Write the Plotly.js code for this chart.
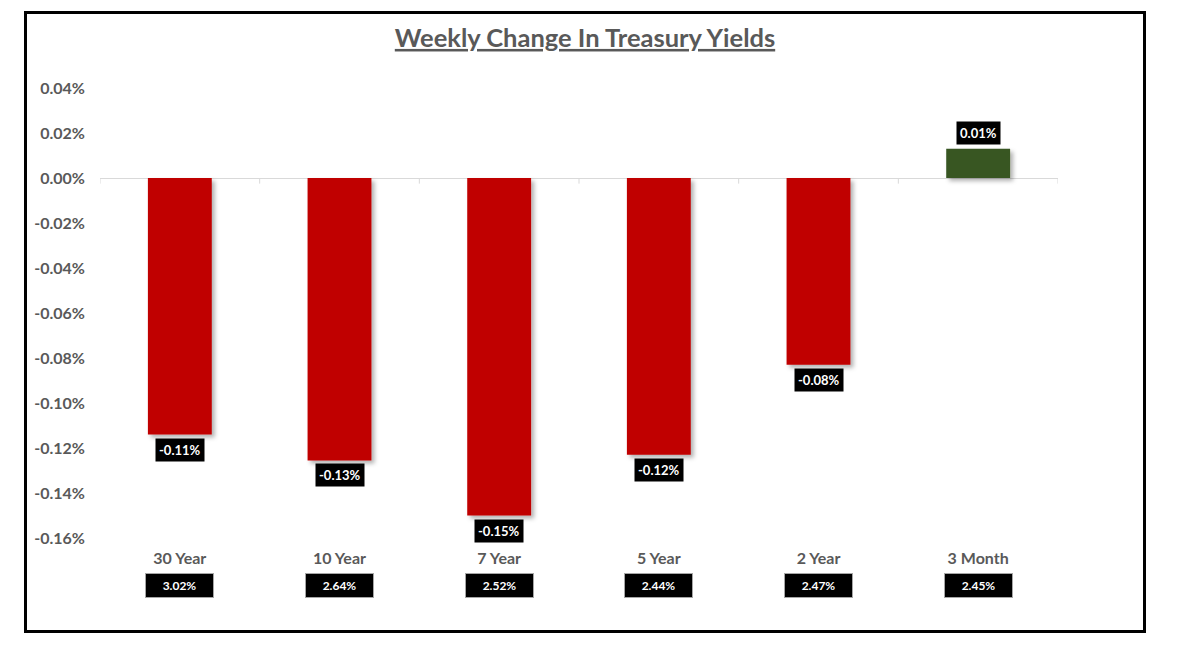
<!DOCTYPE html>
<html>
<head>
<meta charset="utf-8">
<script src="https://cdn.plot.ly/plotly-3.0.1.min.js"></script>
<style>
  html, body { margin: 0; padding: 0; background: #fff; }
  #wrap { position: relative; width: 1183px; height: 662px; }
  #chart { position: absolute; left: 0; top: 0; width: 1183px; height: 662px; }
  #frame { position: absolute; left: 24px; top: 11px; width: 1116px; height: 616px; border: 3px solid #000; pointer-events: none; }
</style>
</head>
<body>
<div id="wrap">
  <div id="chart"></div>
  <div id="frame"></div>
</div>
<script>
// Data
const categories = ['30 Year', '10 Year', '7 Year', '5 Year', '2 Year', '3 Month'];
const weeklyChange = [-0.114, -0.1255, -0.150, -0.123, -0.083, 0.013]; // percent points
const changeLabels = ['-0.11%', '-0.13%', '-0.15%', '-0.12%', '-0.08%', '0.01%'];
const currentYields = ['3.02%', '2.64%', '2.52%', '2.44%', '2.47%', '2.45%'];
const yTickVals = [0.04, 0.02, 0.00, -0.02, -0.04, -0.06, -0.08, -0.10, -0.12, -0.14, -0.16];
const yTickText = ['0.04%', '0.02%', '0.00%', '-0.02%', '-0.04%', '-0.06%', '-0.08%', '-0.10%', '-0.12%', '-0.14%', '-0.16%'];

const RED = '#c00000', GREEN = '#375623', GRAY = '#595959';
const FONT = 'Lato, "Open Sans", sans-serif';

const trace = {
  type: 'bar',
  x: categories,
  y: weeklyChange,
  width: 0.4,
  marker: { color: weeklyChange.map(v => v < 0 ? RED : GREEN), line: { width: 0 } },
  hoverinfo: 'x+y'
};

const annotations = [];
categories.forEach((c, i) => {
  const v = weeklyChange[i];
  annotations.push({
    x: c, y: v, xref: 'x', yref: 'y',
    text: '<b>' + changeLabels[i] + '</b>',
    showarrow: false,
    font: { family: FONT, size: 13, color: '#fff' },
    bgcolor: '#000', borderpad: 3,
    yanchor: v < 0 ? 'top' : 'bottom',
    yshift: v < 0 ? -3 : 4
  });
  annotations.push({
    x: c, y: -0.105, xref: 'x', yref: 'paper',
    text: '<b>' + currentYields[i] + '</b>',
    showarrow: false,
    font: { family: FONT, size: 12, color: '#fff' },
    bgcolor: '#000', bordercolor: '#a6a6a6', borderwidth: 1,
    width: 65, height: 21,
    yanchor: 'middle'
  });
});

// category boundary tick marks on the zero line
const shapes = [];
for (let k = 0; k <= categories.length; k++) {
  shapes.push({
    type: 'line', xref: 'x', yref: 'y',
    x0: k - 0.5, x1: k - 0.5, y0: 0, y1: -0.0025,
    line: { color: '#d9d9d9', width: 1 }
  });
}

const layout = {
  width: 1183, height: 662,
  paper_bgcolor: '#fff', plot_bgcolor: '#fff',
  margin: { l: 100, r: 125, t: 88, b: 124 },
  title: {
    text: '<b><u>Weekly Change In Treasury Yields</u></b>',
    font: { family: FONT, size: 25.5, color: GRAY },
    x: 585 / 1183, xanchor: 'center', xref: 'container',
    y: 1 - 38 / 662, yanchor: 'middle', yref: 'container'
  },
  xaxis: {
    type: 'category',
    range: [-0.5, 5.5],
    showgrid: false, zeroline: false, showline: false,
    ticks: '',
    tickfont: { family: FONT, size: 16, color: GRAY, weight: 'bold' },
    ticklabelstandoff: 9
  },
  yaxis: {
    range: [-0.16, 0.04],
    tickvals: yTickVals, ticktext: yTickText,
    showgrid: false, showline: false,
    zeroline: true, zerolinecolor: '#d9d9d9', zerolinewidth: 1,
    ticks: '',
    tickfont: { family: FONT, size: 16, color: GRAY, weight: 'bold' },
    ticklabelstandoff: 14
  },
  annotations: annotations,
  shapes: shapes,
  showlegend: false,
  font: { family: FONT }
};

Plotly.newPlot('chart', [trace], layout, { displayModeBar: false, staticPlot: true }).then(() => {
  const svg = document.querySelector('#chart svg.main-svg');
  const ns = 'http://www.w3.org/2000/svg';
  let defs = svg.querySelector('defs');
  if (!defs) { defs = document.createElementNS(ns, 'defs'); svg.insertBefore(defs, svg.firstChild); }
  const f = document.createElementNS(ns, 'filter');
  f.setAttribute('id', 'barShadow');
  f.setAttribute('x', '-20%'); f.setAttribute('y', '-20%');
  f.setAttribute('width', '150%'); f.setAttribute('height', '150%');
  const ds = document.createElementNS(ns, 'feDropShadow');
  ds.setAttribute('dx', '3'); ds.setAttribute('dy', '3');
  ds.setAttribute('stdDeviation', '2');
  ds.setAttribute('flood-color', '#000'); ds.setAttribute('flood-opacity', '0.3');
  f.appendChild(ds); defs.appendChild(f);
  document.querySelectorAll('#chart .bars .point path').forEach(p => p.setAttribute('filter', 'url(#barShadow)'));
});
</script>
</body>
</html>
